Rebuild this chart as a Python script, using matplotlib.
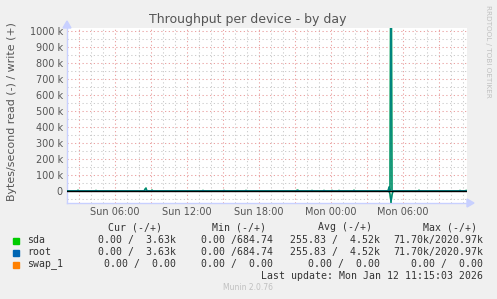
import numpy as np
import matplotlib
matplotlib.use("Agg")
import matplotlib.pyplot as plt

# time axis: hours since Sun 00:00, 5 minute steps, 400 samples
t0 = 2.0
step = 1.0 / 12
n = 400

# write (+) bumps: hour, value in bytes/s
write_hours = [2.92, 4.42, 8.5, 8.58, 9.08, 13.33, 15.08, 16.92, 21.17, 21.25, 22.42,
               23.42, 24.08, 24.67, 25.92, 28.83, 29.0, 31.33, 34.75, 35.25]
write_vals = [5e3, 4e3, 12e3, 19e3, 6e3, 4e3, 4e3, 4e3, 5e3, 5e3, 4e3,
              4e3, 4e3, 4e3, 5e3, 25e3, 2020.97e3, 5e3, 4e3, 3.63e3]
# read (-) values
read_hours = [28.92, 29.0, 29.08]
read_vals = [20e3, 71.70e3, 25e3]

devices = ["sda", "root", "swap_1"]
colors = ["#00cc00", "#0066b3", "#ff8000"]
cur = ["0.00 /  3.63k", "0.00 /  3.63k", "0.00 /  0.00"]
mins = ["0.00 /684.74", "0.00 /684.74", "0.00 /  0.00"]
avgs = ["255.83 /  4.52k", "255.83 /  4.52k", "0.00 /  0.00"]
maxs = ["71.70k/2020.97k", "71.70k/2020.97k", "0.00 /  0.00"]

yticks = list(range(0, 1001, 100))
ylabels = ["0"] + ["%d k" % v for v in yticks[1:]]
xtick_hours = [6, 12, 18, 24, 30]
xtick_labels = ["Sun 06:00", "Sun 12:00", "Sun 18:00", "Mon 00:00", "Mon 06:00"]

t = t0 + np.arange(n) * step
write = np.zeros(n)
for h, v in zip(write_hours, write_vals):
    write[int(round((h - t0) / step))] = v
read = np.zeros(n)
for h, v in zip(read_hours, read_vals):
    read[int(round((h - t0) / step))] = v

W, H = 497, 299
fig = plt.figure(figsize=(W / 100, H / 100), dpi=100, facecolor="#f0f0f0")


def px(x, y):
    return x / W, 1 - y / H


L, R, T, B = 67, 467, 27.5, 203
ax = fig.add_axes([L / W, 1 - B / H, (R - L) / W, (B - T) / H])
ax.set_facecolor("white")
ax.set_xlim(t0, t0 + n * step)
ax.set_ylim(-75, 1025)

# grid
red = "#eba3a3"
grey = "#cdcdcd"
dots = (0, (1.2, 2.4))
for h in np.arange(3, 36, 1):
    ax.axvline(h, color=red if h % 3 == 0 else grey, lw=0.75, ls=dots, zorder=1)
for v in range(-50, 1025, 50):
    ax.axhline(v, color=red if v % 100 == 0 else grey, lw=0.75, ls=dots, zorder=1)

ax.plot(t, write / 1000, color=colors[0], lw=1.0, zorder=4)
ax.plot(t, -read / 1000, color=colors[0], lw=1.0, zorder=4)
ax.plot(t, write / 1000, color=colors[1], lw=1.0, alpha=0.7, zorder=5)
ax.plot(t, -read / 1000, color=colors[1], lw=1.0, alpha=0.7, zorder=5)

ax.axhline(0, color="black", lw=1.0, zorder=6)

ax.set_yticks(yticks)
ax.set_yticklabels(ylabels)
ax.set_xticks(xtick_hours)
ax.set_xticklabels(xtick_labels)
ax.tick_params(length=0, labelsize=7, colors="#555555", pad=3)
for s in ["top", "right"]:
    ax.spines[s].set_visible(False)
for s in ["left", "bottom"]:
    ax.spines[s].set_color("#c8d0ff")
    ax.spines[s].set_linewidth(1.0)

# axis arrows
fig.patches.append(plt.Polygon([px(467, 199), px(467, 207), px(474, 203)], closed=True,
                               transform=fig.transFigure, color="#c8d0ff"))
fig.patches.append(plt.Polygon([px(63, 28), px(71, 28), px(67, 21)], closed=True,
                               transform=fig.transFigure, color="#c8d0ff"))

fig.text(*px(248, 19), "Throughput per device - by day", ha="center", va="center",
         fontsize=9, color="#555555")
fig.text(*px(12, 112), "Bytes/second read (-) / write (+)", rotation=90,
         ha="center", va="center", fontsize=7.9, color="#555555")
fig.text(*px(488, 5), "RRDTOOL / TOBI OETIKER", rotation=-90, ha="center", va="top",
         fontsize=5.2, color="#c0c0c0")

mono = dict(family="DejaVu Sans Mono", fontsize=7.1, color="#333333", va="center")
hy = 227
for x, s in [(108, "Cur (-/+)"), (212, "Min (-/+)"), (318, "Avg (-/+)"), (423, "Max (-/+)")]:
    fig.text(*px(x, hy), s, ha="left", **mono)
for i, d in enumerate(devices):
    y = 240 + 12 * i
    fig.patches.append(plt.Rectangle(px(13, y + 3.5), 6 / W, 6 / H,
                                     transform=fig.transFigure, color=colors[i]))
    fig.text(*px(27, y), d, ha="left", **mono)
    fig.text(*px(176, y), cur[i], ha="right", **mono)
    fig.text(*px(273, y), mins[i], ha="right", **mono)
    fig.text(*px(380, y), avgs[i], ha="right", **mono)
    fig.text(*px(483, y), maxs[i], ha="right", **mono)
fig.text(*px(483, 276), "Last update: Mon Jan 12 11:15:03 2026", ha="right", **mono)
fig.text(*px(248, 288), "Munin 2.0.76", ha="center", va="center", fontsize=5.5,
         color="#c0c0c0")

fig.savefig("out.png", dpi=100, facecolor=fig.get_facecolor())
